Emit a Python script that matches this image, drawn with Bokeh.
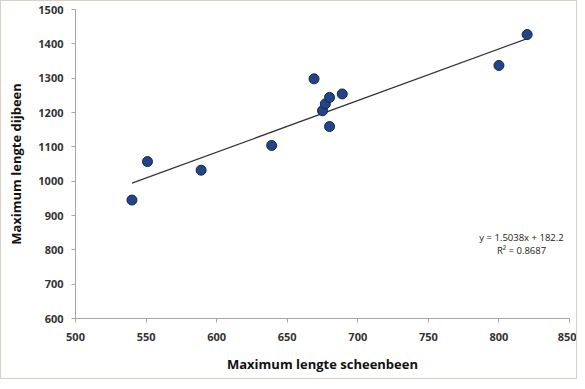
from bokeh.plotting import figure
from bokeh.models import Range1d, FixedTicker, ColumnDataSource, Label
from bokeh.embed import file_html
from bokeh.resources import INLINE

# data
scheenbeen = [540, 551, 589, 639, 669, 675, 677, 680, 680, 689, 800, 820]
dijbeen = [945, 1057, 1032, 1104, 1298, 1205, 1225, 1244, 1159, 1254, 1337, 1427]
slope = 1.5038
intercept = 182.2
eq_text = "y = 1.5038x + 182.2"
r2_text = "R² = 0.8687"
x_ticks = [500, 550, 600, 650, 700, 750, 800, 850]
y_ticks = [600, 700, 800, 900, 1000, 1100, 1200, 1300, 1400, 1500]

FONT = "Open Sans"

p = figure(width=577, height=379, output_backend="svg", toolbar_location=None,
           x_range=Range1d(500, 850), y_range=Range1d(600, 1500),
           min_border_left=74, min_border_right=9, min_border_top=8, min_border_bottom=62)
p.styles = {"border": "1px solid #d8d2c4"}
p.outline_line_color = None
p.xgrid.grid_line_color = None
p.ygrid.grid_line_color = None

for ax in (p.xaxis[0], p.yaxis[0]):
    ax.axis_line_color = "#a6a6a6"
    ax.major_tick_line_color = "#a6a6a6"
    ax.major_tick_out = 4
    ax.major_tick_in = 0
    ax.minor_tick_line_color = None
    ax.major_label_text_font = FONT
    ax.major_label_text_font_style = "bold"
    ax.major_label_text_font_size = "11px"
    ax.major_label_text_color = "#333333"
    ax.axis_label_text_font = FONT
    ax.axis_label_text_font_style = "bold"
    ax.axis_label_text_font_size = "13px"
    ax.axis_label_text_color = "#111111"

p.xaxis.ticker = FixedTicker(ticks=x_ticks)
p.yaxis.ticker = FixedTicker(ticks=y_ticks)
p.xaxis.axis_label = "Maximum lengte scheenbeen"
p.yaxis.axis_label = "Maximum lengte dijbeen"
p.xaxis.major_label_standoff = 10
p.yaxis.major_label_standoff = 8
p.xaxis.axis_label_standoff = 11
p.yaxis.axis_label_standoff = 10

# trend line
x0, x1 = min(scheenbeen), max(scheenbeen)
p.line([x0, x1], [slope * x0 + intercept, slope * x1 + intercept],
       line_color="#333333", line_width=1.2)

src = ColumnDataSource(dict(x=scheenbeen, y=dijbeen))
p.scatter("x", "y", source=src, size=10, fill_color="#22458a", line_color="#142548", line_width=1)

p.add_layout(Label(x=816, y=836, text=eq_text, text_align="center", text_baseline="middle",
                   text_font=FONT, text_font_size="9.5px", text_color="#222222"))
p.add_layout(Label(x=816, y=798, text=r2_text, text_align="center", text_baseline="middle",
                   text_font=FONT, text_font_size="9.5px", text_color="#222222"))

open("out.html", "w").write(file_html(p, INLINE))
